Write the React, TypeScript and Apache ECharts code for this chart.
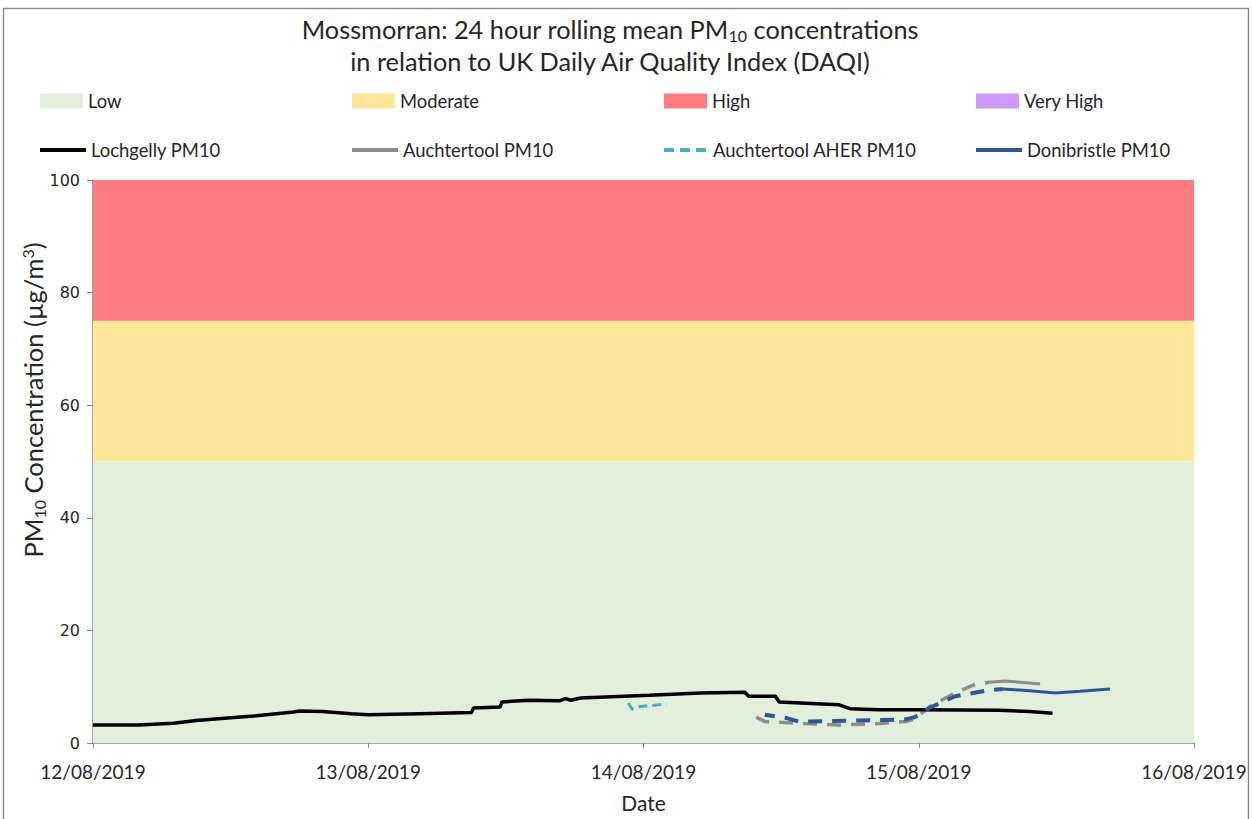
import React, { useEffect, useRef } from "react";
import * as echarts from "echarts";

const tickLabels = ["12/08/2019", "13/08/2019", "14/08/2019", "15/08/2019", "16/08/2019"];

const bandNames = ["Low", "Moderate", "High", "Very High"];
const bandFrom = [0, 50, 75, 100];
const bandTo = [50, 75, 100, 1000];
const bandColors = ["#e2efda", "#ffe699", "#ff7c80", "#cc99ff"];

const lochgellyTimes = [
  "2019-08-12 00:00", "2019-08-12 04:00", "2019-08-12 07:00", "2019-08-12 09:00", "2019-08-12 14:00",
  "2019-08-12 17:30", "2019-08-12 18:00", "2019-08-12 20:00", "2019-08-12 22:30", "2019-08-13 00:00",
  "2019-08-13 04:30", "2019-08-13 09:00", "2019-08-13 09:10", "2019-08-13 11:30", "2019-08-13 11:40",
  "2019-08-13 14:00", "2019-08-13 16:40", "2019-08-13 17:10", "2019-08-13 17:40", "2019-08-13 18:30",
  "2019-08-14 00:30", "2019-08-14 05:00", "2019-08-14 08:50", "2019-08-14 09:10", "2019-08-14 11:30",
  "2019-08-14 11:50", "2019-08-14 17:00", "2019-08-14 18:00", "2019-08-14 20:30", "2019-08-15 00:00",
  "2019-08-15 07:00", "2019-08-15 09:40", "2019-08-15 11:40",
];
const lochgellyValues = [
  3.2, 3.2, 3.5, 4.0, 4.8,
  5.5, 5.7, 5.6, 5.2, 5.0,
  5.2, 5.4, 6.2, 6.4, 7.3,
  7.6, 7.5, 7.9, 7.6, 8.0,
  8.5, 8.9, 9.0, 8.3, 8.3,
  7.3, 6.8, 6.1, 5.9, 5.9,
  5.8, 5.6, 5.3,
];

const aherTimes = ["2019-08-13 22:40", "2019-08-13 23:00", "2019-08-13 23:45", "2019-08-14 02:00"];
const aherValues = [7.1, 6.0, 6.5, 6.9];

const auchDashTimes = [
  "2019-08-14 09:50", "2019-08-14 10:35", "2019-08-14 13:35", "2019-08-14 17:05", "2019-08-14 20:10",
  "2019-08-14 22:50", "2019-08-14 23:40", "2019-08-15 01:00", "2019-08-15 03:10", "2019-08-15 04:55",
  "2019-08-15 06:10",
];
const auchDashValues = [4.6, 3.8, 3.5, 3.2, 3.4, 3.8, 4.3, 6.5, 8.9, 10.4, 10.8];
const auchSolidTimes = ["2019-08-15 06:10", "2019-08-15 07:30", "2019-08-15 08:50", "2019-08-15 10:35"];
const auchSolidValues = [10.8, 11.0, 10.8, 10.5];

const doniDashTimes = [
  "2019-08-14 10:35", "2019-08-14 12:20", "2019-08-14 13:35", "2019-08-14 16:20", "2019-08-14 18:55",
  "2019-08-14 22:50", "2019-08-14 23:40", "2019-08-15 01:00", "2019-08-15 03:10", "2019-08-15 05:50",
  "2019-08-15 07:20",
];
const doniDashValues = [5.0, 4.5, 3.8, 3.9, 4.0, 4.2, 4.6, 6.3, 8.3, 9.3, 9.6];
const doniSolidTimes = ["2019-08-15 07:20", "2019-08-15 09:40", "2019-08-15 11:55", "2019-08-15 14:05", "2019-08-15 16:40"];
const doniSolidValues = [9.6, 9.3, 8.9, 9.2, 9.6];

const DAY = 86400000;
const toTs = (s: string) => Date.parse(s.replace(" ", "T") + ":00Z");
const xMin = toTs("2019-08-12 00:00");
const xMax = xMin + 4 * DAY;
const pairs = (times: string[], values: number[]) => times.map((t, i) => [toTs(t), values[i]]);

const FONT = "Lato";
const TEXT = "#262626";

const SOLID_ICON = "path://M0,0H46V4H0Z";
const DASH_ICON = "path://M0,0H10V4H0Z M16,0H26V4H16Z M32,0H42V4H32Z";

export default function App() {
  const ref = useRef<HTMLDivElement>(null);
  useEffect(() => {
    if (!ref.current) return;
    const chart = echarts.init(ref.current, undefined, { renderer: "svg" });

    const bandSeries = bandNames.map((name, i) => ({
      name,
      type: "line",
      data: [],
      z: 1,
      silent: true,
      itemStyle: { color: bandColors[i] },
      lineStyle: { color: bandColors[i] },
      markArea: {
        silent: true,
        itemStyle: { color: bandColors[i], opacity: 1 },
        data: [[{ yAxis: bandFrom[i] }, { yAxis: bandTo[i] }]],
      },
    }));

    const lineBase = { type: "line", showSymbol: false, symbol: "none", z: 5, silent: true };

    const legendCommon = {
      selectedMode: false,
      padding: 0,
      itemGap: 0,
      textStyle: { fontFamily: FONT, fontSize: 18.4, color: TEXT },
    };
    const colX = [40, 352, 664, 976];
    const lineNames = ["Lochgelly PM10", "Auchtertool PM10", "Auchtertool AHER PM10", "Donibristle PM10"];
    const lineIcons = [SOLID_ICON, SOLID_ICON, DASH_ICON, SOLID_ICON];
    const legends = [
      ...bandNames.map((n, i) => ({
        ...legendCommon,
        left: colX[i],
        top: 92,
        itemWidth: 43,
        itemHeight: 15,
        data: [{ name: n, icon: "rect" }],
      })),
      ...lineNames.map((n, i) => ({
        ...legendCommon,
        left: colX[i],
        top: 141,
        itemWidth: 46,
        itemHeight: 4,
        data: [{ name: n, icon: lineIcons[i] }],
      })),
    ];

    const option = {
      animation: false,
      useUTC: true,
      textStyle: { fontFamily: FONT },
      title: {
        text: "{t|Mossmorran: 24 hour rolling mean PM}{s|10}{t| concentrations}\n{t|in relation to UK Daily Air Quality Index (DAQI)}",
        left: 605,
        top: 8,
        textAlign: "center",
        textStyle: {
          fontWeight: "normal",
          rich: {
            t: { fontFamily: FONT, fontSize: 25.3, fontWeight: "normal", color: TEXT, lineHeight: 32 },
            s: { fontFamily: FONT, fontSize: 16, fontWeight: "normal", color: TEXT, lineHeight: 32, padding: [12, 0, 0, 0] },
          },
        },
      },
      legend: legends,
      grid: { left: 93, right: 58, top: 180, bottom: 76 },
      xAxis: {
        type: "time",
        min: xMin,
        max: xMax,
        interval: DAY,
        minInterval: DAY,
        maxInterval: DAY,
        splitLine: { show: false },
        axisLine: { show: true, lineStyle: { color: "#868686", width: 1.5 } },
        axisTick: { show: true, length: 5, lineStyle: { color: "#868686" } },
        minorTick: { show: false },
        axisLabel: {
          formatter: (v: number) => tickLabels[Math.round((v - xMin) / DAY)] ?? "",
          fontFamily: FONT,
          fontSize: 19,
          color: TEXT,
          margin: 19,
          showMinLabel: true,
          showMaxLabel: true,
          hideOverlap: false,
        },
        name: "Date",
        nameLocation: "middle",
        nameGap: 49,
        nameTextStyle: { fontFamily: FONT, fontSize: 21, color: TEXT },
      },
      yAxis: {
        type: "value",
        min: 0,
        max: 100,
        interval: 20,
        splitLine: { show: false },
        axisLine: { show: true, lineStyle: { color: "#868686", width: 1.5 } },
        axisTick: { show: true, length: 6, lineStyle: { color: "#868686" } },
        axisLabel: { fontFamily: "DejaVu Sans", fontSize: 16, color: TEXT, margin: 13 },
      },
      graphic: [
        {
          type: "rect",
          shape: { x: 3.5, y: 8.5, width: 1245, height: 820 },
          style: { fill: "none", stroke: "#8c8c8c", lineWidth: 1.5 },
          silent: true,
        },
        {
          type: "text",
          x: 33,
          y: 400,
          rotation: Math.PI / 2,
          style: {
            text: "{a|PM}{s|10}{a| Concentration (µg/m}{p|3}{a|)}",
            align: "center",
            verticalAlign: "middle",
            rich: {
              a: { fontFamily: FONT, fontSize: 25.5, fill: TEXT, lineHeight: 30 },
              s: { fontFamily: FONT, fontSize: 16, fill: TEXT, lineHeight: 30, padding: [12, 0, 0, 0] },
              p: { fontFamily: FONT, fontSize: 16, fill: TEXT, lineHeight: 30, padding: [0, 0, 12, 0] },
            },
          },
        },
      ],
      series: [
        ...bandSeries,
        {
          ...lineBase,
          name: "Lochgelly PM10",
          data: pairs(lochgellyTimes, lochgellyValues),
          itemStyle: { color: "#000000" },
          lineStyle: { color: "#000000", width: 3.5 },
          z: 6,
        },
        {
          ...lineBase,
          name: "Auchtertool PM10",
          data: pairs(auchSolidTimes, auchSolidValues),
          itemStyle: { color: "#8c8c8c" },
          lineStyle: { color: "#8c8c8c", width: 3 },
        },
        {
          ...lineBase,
          name: "Auchtertool PM10 dashed",
          data: pairs(auchDashTimes, auchDashValues),
          itemStyle: { color: "#8c8c8c" },
          lineStyle: { color: "#8c8c8c", width: 3.5, type: [14, 10] },
        },
        {
          ...lineBase,
          name: "Auchtertool AHER PM10",
          data: pairs(aherTimes, aherValues),
          itemStyle: { color: "#4bacc6" },
          lineStyle: { color: "#4bacc6", width: 3, type: [9, 5] },
        },
        {
          ...lineBase,
          name: "Donibristle PM10",
          data: pairs(doniSolidTimes, doniSolidValues),
          itemStyle: { color: "#2f5597" },
          lineStyle: { color: "#2f5597", width: 3 },
        },
        {
          ...lineBase,
          name: "Donibristle PM10 dashed",
          data: pairs(doniDashTimes, doniDashValues),
          itemStyle: { color: "#2f5597" },
          lineStyle: { color: "#2f5597", width: 4, type: [14, 10], dashOffset: 4 },
          z: 7,
        },
      ],
    };
    chart.setOption(option as any);
    return () => chart.dispose();
  }, []);

  return (
    <div
      ref={ref}
      style={{ position: "fixed", left: 0, top: 0, width: 1252, height: 819, background: "#ffffff" }}
    />
  );
}
